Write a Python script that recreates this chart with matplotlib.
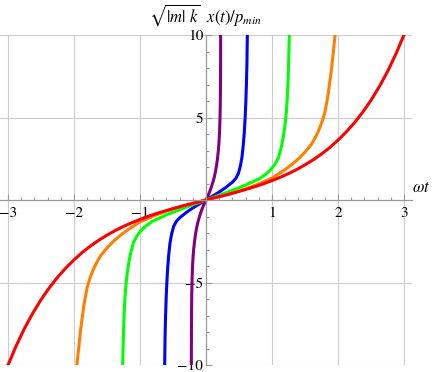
import matplotlib
matplotlib.use("Agg")
import matplotlib.pyplot as plt
from matplotlib.ticker import FixedLocator, MultipleLocator, FixedFormatter

# values (omega t, scaled x)
t_red = [-3.0, -2.875, -2.75, -2.625, -2.5, -2.375, -2.25, -2.125, -2.0, -1.875, -1.75, -1.625,
         -1.5, -1.375, -1.25, -1.125, -1.0, -0.875, -0.75, -0.625, -0.5, -0.375, -0.25, -0.125,
         0.0, 0.125, 0.25, 0.375, 0.5, 0.625, 0.75, 0.875, 1.0, 1.125, 1.25, 1.375,
         1.5, 1.625, 1.75, 1.875, 2.0, 2.125, 2.25, 2.375, 2.5, 2.625, 2.75, 2.875, 3.0]
x_red = [-10.02, -8.84, -7.79, -6.87, -6.05, -5.33, -4.69, -4.13, -3.63, -3.18, -2.79, -2.44,
         -2.13, -1.85, -1.60, -1.38, -1.18, -0.99, -0.82, -0.67, -0.52, -0.38, -0.25, -0.13,
         0.0, 0.13, 0.25, 0.38, 0.52, 0.67, 0.82, 0.99, 1.18, 1.38, 1.60, 1.85,
         2.13, 2.44, 2.79, 3.18, 3.63, 4.13, 4.69, 5.33, 6.05, 6.87, 7.79, 8.84, 10.02]

t_orange = [-1.955, -1.9, -1.85, -1.8, -1.75, -1.7, -1.65, -1.6, -1.5, -1.4, -1.3, -1.2,
            -1.0, -0.8, -0.6, -0.4, -0.2,
            0.0, 0.2, 0.4, 0.6, 0.8, 1.0,
            1.2, 1.3, 1.4, 1.5, 1.6, 1.65, 1.7, 1.75, 1.8, 1.85, 1.9, 1.955]
x_orange = [-10.0, -7.9, -6.4, -5.3, -4.65, -4.15, -3.75, -3.4, -2.9, -2.5, -2.15, -1.85,
            -1.33, -0.98, -0.67, -0.42, -0.21,
            0.0, 0.21, 0.42, 0.67, 0.98, 1.33,
            1.85, 2.15, 2.5, 2.9, 3.4, 3.75, 4.15, 4.65, 5.3, 6.4, 7.9, 10.0]

t_green = [-1.262, -1.253, -1.243, -1.23, -1.215, -1.195, -1.17, -1.14, -1.1, -1.05, -1.0, -0.95,
           -0.9, -0.818, -0.6, -0.414, -0.2,
           0.0, 0.2, 0.414, 0.6, 0.818,
           0.9, 0.95, 1.0, 1.05, 1.1, 1.14, 1.17, 1.195, 1.215, 1.23, 1.243, 1.253, 1.262]
x_green = [-10.0, -8.5, -7.2, -6.1, -5.25, -4.5, -3.8, -3.2, -2.6, -2.2, -1.93, -1.72,
           -1.55, -1.31, -0.9, -0.61, -0.29,
           0.0, 0.29, 0.61, 0.9, 1.31,
           1.55, 1.72, 1.93, 2.2, 2.6, 3.2, 3.8, 4.5, 5.25, 6.1, 7.2, 8.5, 10.0]

t_blue = [-0.626, -0.62, -0.612, -0.603, -0.593, -0.58, -0.565, -0.545, -0.52, -0.49, -0.45,
          -0.4, -0.35, -0.3, -0.2, -0.1,
          0.0, 0.1, 0.2, 0.3, 0.35, 0.4,
          0.45, 0.49, 0.52, 0.545, 0.565, 0.58, 0.593, 0.603, 0.612, 0.62, 0.626]
x_blue = [-10.0, -8.3, -7.0, -5.9, -5.0, -4.1, -3.35, -2.6, -2.05, -1.6, -1.3,
          -1.08, -0.92, -0.76, -0.48, -0.24,
          0.0, 0.24, 0.48, 0.76, 0.92, 1.08,
          1.3, 1.6, 2.05, 2.6, 3.35, 4.1, 5.0, 5.9, 7.0, 8.3, 10.0]

t_purple = [-0.222, -0.221, -0.219, -0.216, -0.211, -0.205, -0.197, -0.187, -0.175, -0.16,
            -0.14, -0.12, -0.1, -0.08, -0.06, -0.04, -0.02,
            0.0, 0.02, 0.04, 0.06, 0.08, 0.1, 0.12, 0.14,
            0.16, 0.175, 0.187, 0.197, 0.205, 0.211, 0.216, 0.219, 0.221, 0.222]
x_purple = [-10.0, -8.2, -6.8, -5.7, -4.8, -4.1, -3.5, -3.0, -2.55, -2.1,
            -1.65, -1.3, -1.02, -0.77, -0.55, -0.35, -0.17,
            0.0, 0.17, 0.35, 0.55, 0.77, 1.02, 1.3, 1.65,
            2.1, 2.55, 3.0, 3.5, 4.1, 4.8, 5.7, 6.8, 8.2, 10.0]

x_ticks = [-3, -2, -1, 1, 2, 3]
x_labels = ["\u22123", "\u22122", "\u22121", "1", "2", "3"]
y_ticks = [-10, -5, 5, 10]
y_labels = ["\u221210", "\u22125", "5", "10"]

plt.rcParams["mathtext.fontset"] = "stix"
plt.rcParams["font.family"] = ["STIXGeneral", "Liberation Serif", "DejaVu Serif"]

fig = plt.figure(figsize=(4.36, 3.72), dpi=100)
ax = fig.add_axes([0.0, 7 / 372, 412 / 436, 330 / 372])
ax.set_xlim(-3.12, 3.12)
ax.set_ylim(-10, 10)

lw = 2.2
ax.plot(t_purple, x_purple, color="#800080", lw=lw)
ax.plot(t_blue, x_blue, color="#0000ff", lw=lw)
ax.plot(t_green, x_green, color="#00ff00", lw=lw)
ax.plot(t_orange, x_orange, color="#ff8000", lw=lw)
ax.plot(t_red, x_red, color="#ff0000", lw=lw)

for s in ["top", "right"]:
    ax.spines[s].set_visible(False)
for s in ["left", "bottom"]:
    ax.spines[s].set_position("zero")
    ax.spines[s].set_color("#999999")
    ax.spines[s].set_linewidth(0.9)

ax.xaxis.set_major_locator(FixedLocator(x_ticks))
ax.xaxis.set_major_formatter(FixedFormatter(x_labels))
ax.xaxis.set_minor_locator(MultipleLocator(0.2))
ax.yaxis.set_major_locator(FixedLocator(y_ticks))
ax.yaxis.set_major_formatter(FixedFormatter(y_labels))
ax.yaxis.set_minor_locator(MultipleLocator(1))
ax.tick_params(which="both", direction="in", color="#999999", labelsize=11, width=0.8)
ax.tick_params(which="major", length=4)
ax.tick_params(which="minor", length=2)
ax.tick_params(axis="x", pad=5)
ax.tick_params(axis="y", pad=2)

ax.grid(True, which="major", color="#cccccc", lw=0.8)
ax.set_axisbelow(True)

fig.text(205 / 436, 1 - 15 / 372, r"$\sqrt{|m|\ k}\ \ x(t)/p_{min}$", ha="center", va="center", fontsize=12)
fig.text(421 / 436, 1 - 188 / 372, r"$\omega t$", ha="center", va="center", fontsize=12)

fig.savefig("out.png", dpi=100)
